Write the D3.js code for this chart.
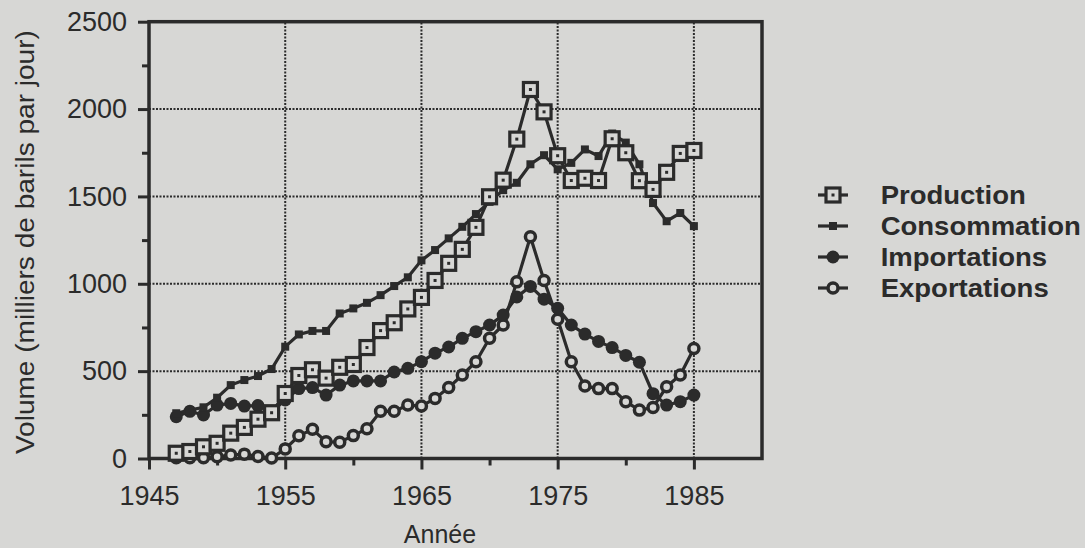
<!DOCTYPE html>
<html>
<head>
<meta charset="utf-8">
<script src="https://cdn.jsdelivr.net/npm/d3@7"></script>
<style>
  body { margin: 0; background: #d7d7d5; }
  svg { display: block; }
  text { font-family: "Liberation Sans", Arial, sans-serif; fill: #2b2b2b; }
</style>
</head>
<body>
<div id="chart"></div>
<script>
// Années
var years = [1947, 1948, 1949, 1950, 1951, 1952, 1953, 1954, 1955, 1956,
  1957, 1958, 1959, 1960, 1961, 1962, 1963, 1964, 1965, 1966,
  1967, 1968, 1969, 1970, 1971, 1972, 1973, 1974, 1975, 1976,
  1977, 1978, 1979, 1980, 1981, 1982, 1983, 1984, 1985];

// Séries (milliers de barils par jour)
var production = [30, 40, 67, 87, 145, 178, 225, 262, 372, 475,
  508, 460, 522, 538, 635, 732, 777, 856, 922, 1019,
  1117, 1197, 1323, 1498, 1593, 1828, 2112, 1984, 1733, 1591,
  1604, 1591, 1830, 1750, 1590, 1540, 1638, 1746, 1763];
var consommation = [259, 277, 293, 348, 420, 449, 472, 512, 640, 710,
  730, 730, 830, 859, 891, 935, 987, 1037, 1134, 1193,
  1260, 1326, 1399, 1469, 1536, 1578, 1684, 1736, 1655, 1692,
  1769, 1731, 1860, 1808, 1684, 1462, 1358, 1405, 1330];
var importations = [239, 270, 249, 306, 315, 300, 303, 268, 335, 400,
  406, 363, 420, 444, 444, 444, 495, 516, 554, 603,
  638, 688, 726, 764, 821, 925, 985, 912, 860, 764,
  712, 670, 635, 590, 551, 371, 306, 325, 363];
var exportations = [5, 5, 5, 10, 20, 25, 12, 3, 55, 130,
  167, 96, 93, 131, 170, 270, 270, 306, 300, 344,
  406, 478, 554, 688, 764, 1011, 1269, 1019, 797, 554,
  415, 400, 400, 325, 277, 292, 411, 478, 630];

var xTicks = [1945, 1955, 1965, 1975, 1985];
var xMinor = [1950, 1960, 1970, 1980];
var yTicks = [0, 500, 1000, 1500, 2000, 2500];
var yMinor = [250, 750, 1250, 1750, 2250];
var seriesNames = ["Production", "Consommation", "Importations", "Exportations"];

var width = 1085, height = 548;
var ink = "#2b2b2b", paper = "#d7d7d5";

var svg = d3.select("#chart").append("svg")
  .attr("width", width).attr("height", height);

var x = d3.scaleLinear().domain([1945, 1990]).range([149, 762]);
var y = d3.scaleLinear().domain([0, 2500]).range([458.5, 21.7]);

// quadrillage pointillé
svg.append("g").selectAll("line").data(xTicks.slice(1)).join("line")
  .attr("x1", d => x(d)).attr("x2", d => x(d))
  .attr("y1", y(0)).attr("y2", y(2500))
  .attr("stroke", ink).attr("stroke-width", 2).attr("stroke-dasharray", "2,1.5");
svg.append("g").selectAll("line").data(yTicks.slice(1, -1)).join("line")
  .attr("x1", x(1945)).attr("x2", x(1990))
  .attr("y1", d => y(d)).attr("y2", d => y(d))
  .attr("stroke", ink).attr("stroke-width", 2).attr("stroke-dasharray", "2,1.5");

// cadre
svg.append("rect")
  .attr("x", x(1945)).attr("y", y(2500))
  .attr("width", x(1990) - x(1945)).attr("height", y(0) - y(2500))
  .attr("fill", "none").attr("stroke", ink).attr("stroke-width", 3.5);

// axes
var xAxis = d3.axisBottom(x).tickValues(xTicks).tickFormat(d3.format("d")).tickSize(11).tickPadding(16);
var gx = svg.append("g").attr("transform", "translate(0," + y(0) + ")").call(xAxis);
gx.select(".domain").remove();
gx.selectAll("line").attr("stroke", ink).attr("stroke-width", 3);
gx.selectAll("text").attr("font-size", 27).attr("fill", ink);
svg.append("g").attr("transform", "translate(0," + y(0) + ")")
  .call(d3.axisBottom(x).tickValues(xMinor).tickFormat("").tickSize(7))
  .call(g => g.select(".domain").remove())
  .selectAll("line").attr("stroke", ink).attr("stroke-width", 3);

var yAxis = d3.axisLeft(y).tickValues(yTicks).tickFormat(d3.format("d")).tickSize(11).tickPadding(11);
var gy = svg.append("g").attr("transform", "translate(" + x(1945) + ",0)").call(yAxis);
gy.select(".domain").remove();
gy.selectAll("line").attr("stroke", ink).attr("stroke-width", 3);
gy.selectAll("text").attr("font-size", 27).attr("fill", ink);
svg.append("g").attr("transform", "translate(" + x(1945) + ",0)")
  .call(d3.axisLeft(y).tickValues(yMinor).tickFormat("").tickSize(7))
  .call(g => g.select(".domain").remove())
  .selectAll("line").attr("stroke", ink).attr("stroke-width", 3);

// titres d'axes
svg.append("text")
  .attr("transform", "translate(34," + ((y(0) + y(2500)) / 2 + 2) + ") rotate(-90)")
  .attr("text-anchor", "middle").attr("font-size", 25)
  .attr("textLength", 424).attr("lengthAdjust", "spacingAndGlyphs")
  .text("Volume (milliers de barils par jour)");
svg.append("text")
  .attr("x", 440).attr("y", 543)
  .attr("text-anchor", "middle").attr("font-size", 25)
  .text("Année");

// marqueurs
function marker(g, kind) {
  if (kind === 0) {
    g.append("rect").attr("x", -7).attr("y", -7).attr("width", 14).attr("height", 14)
      .attr("fill", paper).attr("stroke", ink).attr("stroke-width", 3.2);
    g.append("rect").attr("x", -1.5).attr("y", -1.5).attr("width", 3).attr("height", 3).attr("fill", ink);
  } else if (kind === 1) {
    g.append("rect").attr("x", -4).attr("y", -4).attr("width", 8).attr("height", 8).attr("fill", ink);
  } else if (kind === 2) {
    g.append("circle").attr("r", 6.5).attr("fill", ink);
  } else {
    g.append("circle").attr("r", 5).attr("fill", paper).attr("stroke", ink).attr("stroke-width", 3.5);
  }
}

var series = [production, consommation, importations, exportations];
var line = d3.line().x(d => x(d[0])).y(d => y(d[1]));

series.forEach(function(vals, i) {
  var pts = years.map((yr, j) => [yr, vals[j]]);
  svg.append("path").datum(pts)
    .attr("fill", "none").attr("stroke", ink).attr("stroke-width", 3.2)
    .attr("d", line);
});
// marqueurs dessinés en ordre inverse pour que les carrés restent visibles
[3, 2, 1, 0].forEach(function(i) {
  var vals = series[i];
  svg.append("g").selectAll("g").data(years).join("g")
    .attr("transform", (yr, j) => "translate(" + x(yr) + "," + y(vals[j]) + ")")
    .each(function() { marker(d3.select(this), i); });
});

// légende
var leg = svg.append("g").attr("transform", "translate(818,195)");
seriesNames.forEach(function(name, i) {
  var row = leg.append("g").attr("transform", "translate(0," + (i * 31) + ")");
  row.append("line").attr("x1", 0).attr("x2", 30).attr("stroke", ink).attr("stroke-width", 3.2);
  marker(row.append("g").attr("transform", "translate(15,0)"), i);
  row.append("text").attr("x", 57).attr("dy", "0.36em")
    .attr("font-size", 25).attr("font-weight", "bold")
    .attr("transform", "scale(1.1,1)")
    .text(name);
});
</script>
</body>
</html>
